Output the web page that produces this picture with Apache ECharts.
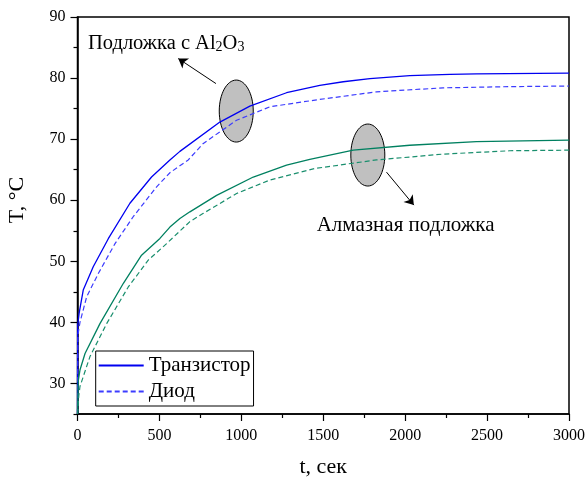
<!DOCTYPE html>
<html>
<head>
<meta charset="utf-8">
<script src="https://cdn.jsdelivr.net/npm/echarts@6/dist/echarts.min.js"></script>
<style>html,body{margin:0;padding:0;background:#fff}#c{width:588px;height:478px}</style>
</head>
<body>
<div id="c"></div>
<script>
// Al2O3 substrate, transistor (blue solid)
const tAlTr = [0, 1, 10, 35, 96, 188, 320, 452, 564, 625, 869, 1052, 1276, 1479, 1622, 1785, 2028, 2273, 2435, 3000];
const TAlTr = [25, 39.5, 41.5, 45.3, 49.1, 53.7, 59.5, 63.8, 66.6, 68.0, 72.8, 75.4, 77.6, 78.8, 79.4, 79.9, 80.4, 80.6, 80.7, 80.8];
// Al2O3 substrate, diode (blue dashed)
const tAlDi = [0, 3, 15, 56, 127, 229, 340, 483, 564, 676, 768, 971, 1174, 1450, 1825, 2231, 2638, 3000];
const TAlDi = [25, 38, 40, 44.2, 48.0, 52.9, 57.3, 62.2, 64.5, 66.6, 69.3, 73.1, 75.3, 76.4, 77.75, 78.4, 78.6, 78.7];
// Diamond substrate, transistor (green solid)
const tDmTr = [0, 5, 15, 46, 137, 280, 391, 503, 564, 625, 686, 849, 1073, 1276, 1418, 1683, 2028, 2435, 3000];
const TDmTr = [25, 30.5, 32.2, 34.9, 39.8, 46.4, 51.0, 53.75, 55.6, 57.0, 58.1, 60.8, 63.8, 65.75, 66.7, 68.2, 69.0, 69.6, 69.85];
// Diamond substrate, diode (green dashed)
const tDmDi = [0, 8, 15, 76, 178, 310, 432, 544, 686, 768, 971, 1174, 1450, 1825, 2231, 2638, 3000];
const TDmDi = [25, 28, 29.5, 34.4, 39.8, 45.8, 50.2, 52.9, 56.5, 57.85, 61.1, 63.3, 65.2, 66.6, 67.55, 68.1, 68.2];

const yLabelTicks = [30, 40, 50, 60, 70, 80, 90];
const yMinorTicks = [25, 35, 45, 55, 65, 75, 85];
const legendNames = ['Транзистор', 'Диод'];

// annotation anchors (data coordinates)
const ellipseCenters = [[969, 74.6], [1772, 67.4]];
const arrows = [[[845, 79.1], [615, 83.2]], [[1886, 64.6], [2053, 59.2]]];

const zip = (a, b) => a.map((v, i) => [v, b[i]]);
const FONT = '"Liberation Serif", "Times New Roman", serif';

const chart = echarts.init(document.getElementById('c'));
const blue = '#0000f0', blueD = '#3c3cff', green = '#008060', greenD = '#1a8f6e';

chart.setOption({
  animation: false,
  backgroundColor: '#fff',
  grid: { left: 77.5, top: 17, right: 19, bottom: 64, show: true, borderColor: '#000', borderWidth: 1.5, containLabel: false, outerBoundsMode: 'none' },
  legend: {
    left: 95.7, top: 351, orient: 'vertical',
    itemWidth: 45, itemHeight: 14, itemGap: 5,
    padding: [4, 3, 4, 2],
    borderColor: '#000', borderWidth: 1, backgroundColor: '#fff',
    itemStyle: { opacity: 0 },
    textStyle: { fontFamily: FONT, fontSize: 21, color: '#000', lineHeight: 20 },
    data: legendNames
  },
  xAxis: {
    type: 'value', min: 0, max: 3000, interval: 500,
    name: 't, сек', nameLocation: 'middle', nameGap: 42,
    nameTextStyle: { fontFamily: FONT, fontSize: 22, color: '#000' },
    axisLine: { lineStyle: { color: '#000', width: 1.5 } },
    axisTick: { show: true, inside: false, length: 7, lineStyle: { color: '#000', width: 1.2 } },
    minorTick: { show: true, splitNumber: 2, length: 4, lineStyle: { color: '#000', width: 1.2 } },
    axisLabel: { fontFamily: FONT, fontSize: 16, color: '#000', margin: 14, formatter: v => String(v) },
    splitLine: { show: false }
  },
  yAxis: [{
    type: 'value', min: 25, max: 90,
    axisLine: { show: true, lineStyle: { color: '#000', width: 1.5 } },
    axisTick: { show: true, inside: false, length: 7, customValues: yLabelTicks, lineStyle: { color: '#000', width: 1.2 } },
    axisLabel: { fontFamily: FONT, fontSize: 16, color: '#000', margin: 12, customValues: yLabelTicks, formatter: v => String(v) },
    splitLine: { show: false }
  }, {
    type: 'value', min: 25, max: 90, position: 'left',
    axisLine: { show: false },
    axisTick: { show: true, inside: false, length: 4, customValues: yMinorTicks, lineStyle: { color: '#000', width: 1.2 } },
    axisLabel: { show: false },
    splitLine: { show: false }
  }],
  series: [
    { name: 'Транзистор', type: 'line', data: zip(tAlTr, TAlTr), symbol: 'none', lineStyle: { color: blue, width: 1.3 }, itemStyle: { color: blue },
      markLine: {
        silent: true, symbol: ['none', 'arrow'], symbolSize: 9,
        lineStyle: { color: '#000', width: 1, type: 'solid' }, label: { show: false },
        data: arrows.map(a => [{ coord: a[0] }, { coord: a[1] }])
      } },
    { name: 'Диод', type: 'line', data: zip(tAlDi, TAlDi), symbol: 'none', lineStyle: { color: blueD, width: 1.2, type: [5, 3] }, itemStyle: { color: blueD } },
    { name: 'Транзистор', type: 'line', data: zip(tDmTr, TDmTr), symbol: 'none', lineStyle: { color: green, width: 1.3 }, itemStyle: { color: green } },
    { name: 'Диод', type: 'line', data: zip(tDmDi, TDmDi), symbol: 'none', lineStyle: { color: greenD, width: 1.2, type: [5, 3] }, itemStyle: { color: greenD } }
  ]
});

const ep = ellipseCenters.map(c => chart.convertToPixel({ gridIndex: 0 }, c));
chart.setOption({
  graphic: [
    ...ep.map(p => ({ type: 'ellipse', z: 0, shape: { cx: p[0], cy: p[1], rx: 17, ry: 31 }, style: { fill: '#c0c0c0', stroke: '#000', lineWidth: 1 } })),
    { type: 'text', x: 17.5, y: 200, rotation: Math.PI / 2, style: { text: 'T, °C', font: '22px ' + FONT, fill: '#000', textAlign: 'center', textVerticalAlign: 'middle', verticalAlign: 'middle' } },
    { type: 'text', x: 88, y: 54, style: {
      text: '{n|Подложка с Al}{s|2}{n|O}{s|3}', verticalAlign: 'bottom', textVerticalAlign: 'bottom', fill: '#000',
      rich: {
        n: { fontFamily: FONT, fontSize: 20.5, lineHeight: 24, verticalAlign: 'bottom', color: '#000' },
        s: { fontFamily: FONT, fontSize: 14, lineHeight: 4, verticalAlign: 'bottom', color: '#000' }
      } } },
    { type: 'text', x: 316.7, y: 225, style: { text: 'Алмазная подложка', font: '21px ' + FONT, fill: '#000', verticalAlign: 'middle', textVerticalAlign: 'middle' } }
  ]
});
</script>
</body>
</html>
